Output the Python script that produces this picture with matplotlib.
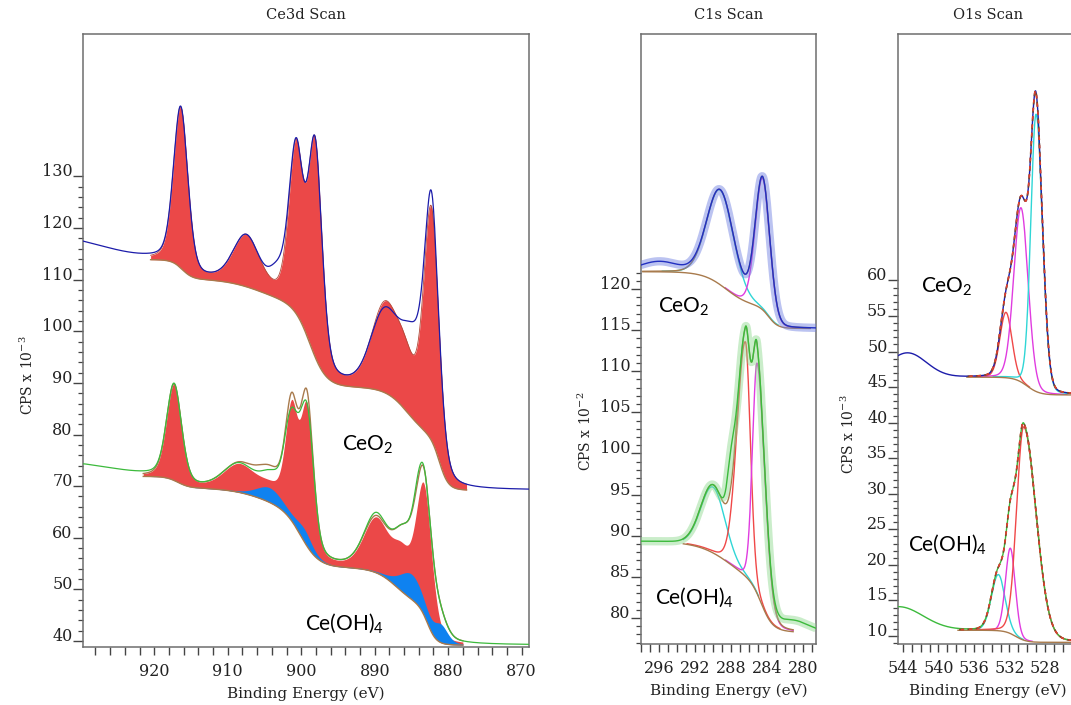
import numpy as np
import matplotlib
matplotlib.use("Agg")
import matplotlib.pyplot as plt
from matplotlib.ticker import FixedLocator

plt.rcParams['font.family'] = ['DejaVu Serif']
plt.rcParams['mathtext.fontset'] = 'custom'
plt.rcParams['mathtext.rm'] = 'DejaVu Serif'
plt.rcParams['mathtext.sf'] = 'Lato'

# ---------------------------------------------------------------- Ce 3d
ce3d_xlim = (929.7, 869.0)
ce3d_ylim = (38.84, 157.6)

# CeO2: background (low-BE level + steps: centre, height, width)
ceo2_3d_bg_base = 69.2
ceo2_3d_bg_centers = [881.2, 885.5, 898.8, 905.5, 916.2]
ceo2_3d_bg_heights = [10.0, 10.0, 16.0, 5.0, 3.7]
ceo2_3d_bg_widths = [0.6, 1.5, 1.1, 2.5, 0.7]
ceo2_3d_window = (920.5, 877.5)
# CeO2: Ce(IV) fit components
ceo2_3d_centers = [882.3, 885.8, 888.7, 898.1, 900.7, 907.5, 916.4]
ceo2_3d_heights = [44.0, 8.0, 15.5, 40.0, 31.0, 9.5, 31.0]
ceo2_3d_fwhm = [2.4, 3.5, 4.2, 2.2, 2.3, 4.2, 2.3]
# CeO2: structure in the measured spectrum not covered by the fit
ceo2_3d_res_centers = [882.2, 884.6, 888.6, 903.2, 933.0]
ceo2_3d_res_heights = [2.5, 6.5, -1.2, 3.5, 4.0]
ceo2_3d_res_fwhm = [1.3, 2.4, 2.5, 2.4, 14.0]

# Ce(OH)4: background
ceoh_3d_bg_base = 39.2
ceoh_3d_bg_centers = [882.8, 887.0, 900.0, 905.0, 916.8]
ceoh_3d_bg_heights = [7.5, 7.5, 11.0, 4.5, 2.2]
ceoh_3d_bg_widths = [0.6, 1.5, 1.2, 2.5, 0.8]
ceoh_3d_window = (921.5, 878.0)
# Ce(OH)4: Ce(IV) components
ceoh_3d_ce4_centers = [883.3, 886.3, 889.8, 899.2, 901.3, 904.0, 908.5, 917.3]
ceoh_3d_ce4_heights = [24.5, 6.5, 10.0, 25.5, 20.0, 2.5, 5.0, 18.5]
ceoh_3d_ce4_fwhm = [2.5, 3.0, 4.0, 2.0, 2.0, 4.5, 5.0, 2.4]
# Ce(OH)4: Ce(III) components
ceoh_3d_ce3_centers = [881.0, 885.0, 899.5, 904.3]
ceoh_3d_ce3_heights = [3.2, 4.8, 2.3, 2.8]
ceoh_3d_ce3_fwhm = [2.2, 3.8, 2.5, 4.2]
# Ce(OH)4: measured-minus-fit structure
ceoh_3d_res_centers = [884.2, 889.8, 899.2, 901.3, 905.5, 932.0]
ceoh_3d_res_heights = [1.2, 0.6, -2.5, -2.9, -1.2, 2.5]
ceoh_3d_res_fwhm = [1.2, 3.0, 1.2, 1.2, 3.5, 14.0]

# ---------------------------------------------------------------- C 1s
c1s_xlim = (298.0, 278.56)
c1s_ylim = (76.84, 151.0)

ceo2_c1s_bg_base = 115.2
ceo2_c1s_bg_centers = [283.8, 288.5]
ceo2_c1s_bg_heights = [2.6, 4.3]
ceo2_c1s_bg_widths = [0.5, 1.3]
ceo2_c1s_window = (297.8, 279.2)
ceo2_c1s_centers = [289.2, 284.5]
ceo2_c1s_heights = [11.5, 16.0]
ceo2_c1s_fwhm = [3.5, 1.9]
ceo2_c1s_colors = ['#2fd6d6', '#e03ce0']
ceo2_c1s_res_centers = [296.0]
ceo2_c1s_res_heights = [1.2]
ceo2_c1s_res_fwhm = [5.0]

ceoh_c1s_bg_base = 78.2
ceoh_c1s_bg_centers = [284.6, 288.0]
ceoh_c1s_bg_heights = [5.5, 5.6]
ceoh_c1s_bg_widths = [0.6, 1.8]
ceoh_c1s_window = (293.3, 281.1)
ceoh_c1s_centers = [290.0, 286.4, 285.1]
ceoh_c1s_heights = [8.0, 28.5, 28.0]
ceoh_c1s_fwhm = [3.2, 2.2, 1.2]
ceoh_c1s_fwhm_low = [3.2, 1.3, 2.0]
ceoh_c1s_colors = ['#2fd6d6', '#f04848', '#e03ce0']
ceoh_c1s_res_centers = [288.0, 281.0]
ceoh_c1s_res_heights = [4.5, 1.2]
ceoh_c1s_res_fwhm = [1.0, 4.0]

# ---------------------------------------------------------------- O 1s
o1s_xlim = (544.56, 524.28)
o1s_ylim = (8.87, 94.67)

ceo2_o1s_bg_base = 43.9
ceo2_o1s_bg_centers = [530.0]
ceo2_o1s_bg_heights = [2.5]
ceo2_o1s_bg_widths = [0.7]
ceo2_o1s_window = (536.8, 524.3)
ceo2_o1s_centers = [532.4, 530.7, 529.0]
ceo2_o1s_heights = [9.2, 24.5, 39.0]
ceo2_o1s_fwhm = [1.6, 1.9, 1.4]
ceo2_o1s_fwhm_low = [1.6, 1.9, 1.7]
ceo2_o1s_colors = ['#f04848', '#e03ce0', '#2fd6d6']
ceo2_o1s_res_centers = [543.5]
ceo2_o1s_res_heights = [3.4]
ceo2_o1s_res_fwhm = [5.0]

ceoh_o1s_bg_base = 9.1
ceoh_o1s_bg_centers = [531.3]
ceoh_o1s_bg_heights = [1.7]
ceoh_o1s_bg_widths = [0.6]
ceoh_o1s_window = (537.8, 524.3)
ceoh_o1s_centers = [533.26, 531.9, 530.4]
ceoh_o1s_heights = [7.9, 12.0, 30.0]
ceoh_o1s_fwhm = [1.8, 1.3, 1.85]
ceoh_o1s_fwhm_low = [1.8, 1.3, 3.3]
ceoh_o1s_colors = ['#2fd6d6', '#e03ce0', '#f04848']
ceoh_o1s_res_centers = [544.5]
ceoh_o1s_res_heights = [3.3]
ceoh_o1s_res_fwhm = [6.5]

# ---------------------------------------------------------------- styling
RED_FILL = '#eb4848'
BLUE_FILL = '#0f82f0'
NAVY = '#1c1caa'
GREEN = '#3cba3c'
BROWN = '#a87a4c'
FRAME = '#6e6e6e'
TXT = '#222222'
MIX_3D = 0.3
MIX_CORE = 0.1


def pseudo_voigt(x, c, h, w_hi, w_lo, m):
    w = np.where(x >= c, w_hi, w_lo)
    t = (x - c) / w
    return h * (m / (1.0 + 4.0 * t ** 2) + (1.0 - m) * np.exp(-4.0 * np.log(2.0) * t ** 2))


def peaks(x, centers, heights, fwhm, m, fwhm_low=None):
    if fwhm_low is None:
        fwhm_low = fwhm
    out = np.zeros_like(x)
    for c, h, w1, w2 in zip(centers, heights, fwhm, fwhm_low):
        out += pseudo_voigt(x, c, h, w1, w2, m)
    return out


def steps(x, base, centers, heights, widths):
    out = np.full_like(x, base, dtype=float)
    for c, h, s in zip(centers, heights, widths):
        out += h / (1.0 + np.exp(-(x - c) / s))
    return out


def energy_grid(lim, n=1500):
    return np.linspace(min(lim), max(lim), n)


def style_axes(ax, xlim, ylim, xmajor, xminor, ymajor, yminor, title, ylabel, ylab_pos):
    ax.set_xlim(*xlim)
    ax.set_ylim(*ylim)
    for s in ax.spines.values():
        s.set_color(FRAME)
        s.set_linewidth(1.1)
    ax.xaxis.set_major_locator(FixedLocator(xmajor))
    ax.xaxis.set_minor_locator(FixedLocator(xminor))
    ax.yaxis.set_major_locator(FixedLocator(ymajor))
    ax.yaxis.set_minor_locator(FixedLocator(yminor))
    ax.tick_params(axis='x', which='both', direction='out', length=5.5, width=1.0,
                   color='#444444', labelsize=11.5, labelcolor=TXT, pad=6)
    ax.tick_params(axis='y', which='major', direction='out', length=7, width=1.0,
                   color='#444444', labelsize=11.5, labelcolor=TXT, pad=0.5)
    ax.tick_params(axis='y', which='minor', direction='out', length=3.5, width=0.9,
                   color='#444444')
    ax.set_xticklabels([str(v) for v in xmajor])
    ax.set_yticklabels([str(v) for v in ymajor])
    for lbl in ax.get_yticklabels():
        lbl.set_verticalalignment('baseline')
    ax.set_title(title, fontsize=10.5, color=TXT, pad=11)
    ax.set_xlabel('Binding Energy (eV)', fontsize=11, color=TXT, labelpad=5)
    ax.set_ylabel(ylabel, fontsize=10, color=TXT)
    ax.yaxis.set_label_coords(*ylab_pos)


def label(ax, x, y, s):
    ax.text(x, y, s, fontsize=15, family='Lato', color='black', ha='left', va='baseline',
            zorder=10)


fig = plt.figure(figsize=(10.71, 7.05), dpi=100)
W, H = 1071.0, 705.0


def add_axes(left, right, top, bottom):
    return fig.add_axes([left / W, (H - bottom) / H, (right - left) / W, (bottom - top) / H])


# ================================================================= Ce 3d panel
ax1 = add_axes(83, 529, 34, 647)
x_all = energy_grid(ce3d_xlim)

# CeO2
xw = energy_grid(ceo2_3d_window)
bg = steps(xw, ceo2_3d_bg_base, ceo2_3d_bg_centers, ceo2_3d_bg_heights, ceo2_3d_bg_widths)
fit = peaks(xw, ceo2_3d_centers, ceo2_3d_heights, ceo2_3d_fwhm, MIX_3D)
ax1.fill_between(xw, bg, bg + fit, color=RED_FILL, lw=0, zorder=2)
ax1.plot(xw, bg + fit, color='#b04a3a', lw=0.6, zorder=3)
ax1.plot(xw, bg, color=BROWN, lw=1.0, zorder=3)
meas = (steps(x_all, ceo2_3d_bg_base, ceo2_3d_bg_centers, ceo2_3d_bg_heights, ceo2_3d_bg_widths)
        + peaks(x_all, ceo2_3d_centers, ceo2_3d_heights, ceo2_3d_fwhm, MIX_3D)
        + peaks(x_all, ceo2_3d_res_centers, ceo2_3d_res_heights, ceo2_3d_res_fwhm, 0.0))
ax1.plot(x_all, meas, color=NAVY, lw=0.9, zorder=4)

# Ce(OH)4
xw = energy_grid(ceoh_3d_window)
bg = steps(xw, ceoh_3d_bg_base, ceoh_3d_bg_centers, ceoh_3d_bg_heights, ceoh_3d_bg_widths)
ce4 = peaks(xw, ceoh_3d_ce4_centers, ceoh_3d_ce4_heights, ceoh_3d_ce4_fwhm, MIX_3D)
ce3 = peaks(xw, ceoh_3d_ce3_centers, ceoh_3d_ce3_heights, ceoh_3d_ce3_fwhm, MIX_3D)
ax1.fill_between(xw, bg, bg + ce4, color=RED_FILL, lw=0, zorder=2)
ax1.fill_between(xw, bg, bg + ce3, color=BLUE_FILL, lw=0, zorder=2.5)
ax1.plot(xw, bg + ce4 + ce3, color=BROWN, lw=1.0, zorder=3)
ax1.plot(xw, bg, color=BROWN, lw=1.0, zorder=3)
meas = (steps(x_all, ceoh_3d_bg_base, ceoh_3d_bg_centers, ceoh_3d_bg_heights, ceoh_3d_bg_widths)
        + peaks(x_all, ceoh_3d_ce4_centers, ceoh_3d_ce4_heights, ceoh_3d_ce4_fwhm, MIX_3D)
        + peaks(x_all, ceoh_3d_ce3_centers, ceoh_3d_ce3_heights, ceoh_3d_ce3_fwhm, MIX_3D)
        + peaks(x_all, ceoh_3d_res_centers, ceoh_3d_res_heights, ceoh_3d_res_fwhm, 0.0))
ax1.plot(x_all, meas, color=GREEN, lw=0.9, zorder=4)

style_axes(ax1, ce3d_xlim, ce3d_ylim,
           list(range(920, 869, -10)), list(range(928, 869, -2)),
           list(range(40, 131, 10)), list(range(40, 131, 2)),
           'Ce3d Scan', r'CPS x 10$^{\mathrm{-3}}$', (-0.105, 0.444))
label(ax1, 894.4, 77.0, r'CeO$_\mathsf{2}$')
label(ax1, 899.5, 42.1, r'Ce(OH)$_\mathsf{4}$')


# ================================================================= core-level panels
def core_panel(ax, xlim, spectra, envelope_dashed):
    x_full = energy_grid(xlim)
    for sp in spectra:
        xw = energy_grid(sp['window'])
        bg = steps(xw, sp['base'], sp['bgc'], sp['bgh'], sp['bgw'])
        lows = sp.get('fwhm_low', sp['fwhm'])
        env = np.zeros_like(xw)
        for c, h, w1, w2, col in zip(sp['centers'], sp['heights'], sp['fwhm'], lows, sp['colors']):
            comp = pseudo_voigt(xw, c, h, w1, w2, MIX_CORE)
            env += comp
            line = np.where(comp > 0.08, bg + comp, np.nan)
            ax.plot(xw, line, color=col, lw=1.0, zorder=3)
        ax.plot(xw, bg, color=BROWN, lw=1.0, zorder=3.2)
        meas = (steps(x_full, sp['base'], sp['bgc'], sp['bgh'], sp['bgw'])
                + peaks(x_full, sp['centers'], sp['heights'], sp['fwhm'], MIX_CORE, lows)
                + peaks(x_full, sp['rc'], sp['rh'], sp['rw'], 0.0))
        if sp.get('band'):
            ax.plot(x_full, meas, color=sp['band'], lw=6, alpha=0.45, zorder=3.9,
                    solid_capstyle='butt')
        ax.plot(x_full, meas, color=sp['color'], lw=1.0, zorder=4)
        if envelope_dashed:
            ax.plot(xw, bg + env, color='#7a4a2a', lw=1.2, zorder=5, dashes=(3, 2))
            ax.plot(xw, bg + env, color='#e04030', lw=1.2, zorder=5, dashes=(2, 3))
        else:
            ax.plot(xw, bg + env, color=BROWN, lw=1.0, zorder=3.5)


ax2 = add_axes(641, 816, 34, 644)
core_panel(ax2, c1s_xlim, [
    dict(window=ceo2_c1s_window, base=ceo2_c1s_bg_base, bgc=ceo2_c1s_bg_centers,
         bgh=ceo2_c1s_bg_heights, bgw=ceo2_c1s_bg_widths, centers=ceo2_c1s_centers,
         heights=ceo2_c1s_heights, fwhm=ceo2_c1s_fwhm, colors=ceo2_c1s_colors,
         rc=ceo2_c1s_res_centers, rh=ceo2_c1s_res_heights, rw=ceo2_c1s_res_fwhm,
         color='#2230c0', band='#6a7ae0'),
    dict(window=ceoh_c1s_window, base=ceoh_c1s_bg_base, bgc=ceoh_c1s_bg_centers,
         bgh=ceoh_c1s_bg_heights, bgw=ceoh_c1s_bg_widths, centers=ceoh_c1s_centers,
         heights=ceoh_c1s_heights, fwhm=ceoh_c1s_fwhm, fwhm_low=ceoh_c1s_fwhm_low,
         colors=ceoh_c1s_colors, rc=ceoh_c1s_res_centers, rh=ceoh_c1s_res_heights,
         rw=ceoh_c1s_res_fwhm, color=GREEN, band='#8ad88a'),
], envelope_dashed=False)
style_axes(ax2, c1s_xlim, c1s_ylim,
           list(range(296, 279, -4)), list(range(298, 278, -1)),
           list(range(80, 121, 5)), list(range(77, 123, 1)),
           'C1s Scan', r'CPS x 10$^{\mathrm{-2}}$', (-0.269, 0.349))
label(ax2, 296.1, 117.2, r'CeO$_\mathsf{2}$')
label(ax2, 296.4, 81.6, r'Ce(OH)$_\mathsf{4}$')

ax3 = add_axes(898, 1078, 34, 644)
core_panel(ax3, o1s_xlim, [
    dict(window=ceo2_o1s_window, base=ceo2_o1s_bg_base, bgc=ceo2_o1s_bg_centers,
         bgh=ceo2_o1s_bg_heights, bgw=ceo2_o1s_bg_widths, centers=ceo2_o1s_centers,
         heights=ceo2_o1s_heights, fwhm=ceo2_o1s_fwhm, fwhm_low=ceo2_o1s_fwhm_low,
         colors=ceo2_o1s_colors, rc=ceo2_o1s_res_centers, rh=ceo2_o1s_res_heights,
         rw=ceo2_o1s_res_fwhm, color=NAVY),
    dict(window=ceoh_o1s_window, base=ceoh_o1s_bg_base, bgc=ceoh_o1s_bg_centers,
         bgh=ceoh_o1s_bg_heights, bgw=ceoh_o1s_bg_widths, centers=ceoh_o1s_centers,
         heights=ceoh_o1s_heights, fwhm=ceoh_o1s_fwhm, fwhm_low=ceoh_o1s_fwhm_low,
         colors=ceoh_o1s_colors, rc=ceoh_o1s_res_centers, rh=ceoh_o1s_res_heights,
         rw=ceoh_o1s_res_fwhm, color=GREEN),
], envelope_dashed=True)
style_axes(ax3, o1s_xlim, o1s_ylim,
           list(range(544, 523, -4)), list(range(544, 524, -1)),
           list(range(10, 61, 5)), list(range(9, 61, 1)),
           'O1s Scan', r'CPS x 10$^{\mathrm{-3}}$', (-0.228, 0.344))
label(ax3, 542.0, 58.3, r'CeO$_\mathsf{2}$')
label(ax3, 543.4, 21.9, r'Ce(OH)$_\mathsf{4}$')

fig.savefig('out.png', dpi=100, facecolor='white')
